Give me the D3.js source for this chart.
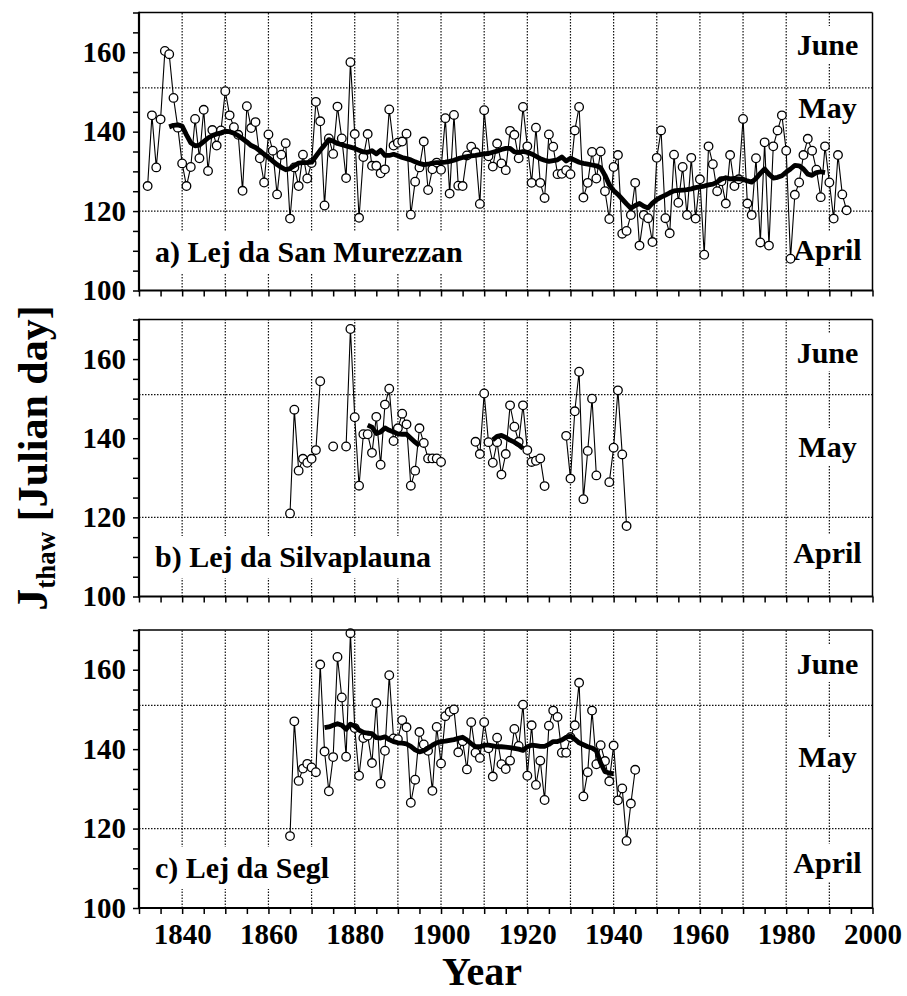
<!DOCTYPE html>
<html>
<head>
<meta charset="utf-8">
<script src="https://cdn.jsdelivr.net/npm/d3@7"></script>
<style>
  html, body { margin: 0; padding: 0; background: #fff; }
  svg { display: block; }
  text { font-family: "Liberation Serif", "Times New Roman", Times, serif; font-weight: bold; fill: #000; }
</style>
</head>
<body>
<svg id="chart" width="907" height="996"></svg>
<script>
// Ice break-up dates (Julian day) of the three Upper Engadine lakes
const murezzanStart = 1832;
const murezzanThaw = [
  126.3,144.1,131.0,143.1,160.3,159.5,148.5,141.0,
  132.0,126.3,131.1,143.2,133.3,145.5,130.1,140.4,136.5,140.3,
  150.2,144.1,141.1,139.2,125.1,146.4,140.9,142.4,133.3,127.2,
  139.3,135.2,124.2,134.2,137.1,118.1,131.0,126.3,134.2,128.2,
  132.1,147.5,142.6,121.4,138.3,134.4,146.3,138.3,128.3,157.5,
  139.4,118.3,133.6,139.4,131.4,131.4,129.5,130.5,145.6,136.5,
  137.2,137.5,139.5,119.1,127.4,131.0,137.5,125.3,130.5,132.2,
  130.4,143.4,124.4,144.2,126.4,126.3,134.0,136.2,134.8,121.8,
  145.4,133.8,131.2,137.0,132.0,130.3,140.2,139.2,133.3,146.2,
  136.3,127.1,141.0,127.1,123.3,139.3,136.2,129.3,129.4,130.3,
  129.3,140.3,146.2,123.4,127.1,134.9,128.2,135.0,125.0,118.0,
  131.1,134.1,114.3,115.0,119.0,127.1,111.3,119.0,118.2,112.2,
  133.4,140.3,118.2,114.4,134.2,122.1,131.1,119.0,133.4,118.1,
  128.0,109.0,136.3,131.8,125.0,127.5,121.9,134.1,126.3,128.0,
  143.2,121.9,119.0,133.3,112.1,137.3,111.3,136.3,140.3,144.1,
  135.2,108.0,124.1,127.2,134.1,138.2,135.2,130.4,123.5,136.3,
  127.2,118.1,134.1,124.2,120.2
];
const murezzanTrendStart = 1837;
const murezzanTrend = [
  141.2,141.6,141.7,
  141.4,139.2,137.2,136.4,136.6,137.5,138.4,139.0,139.4,139.7,
  140.1,140.0,139.6,139.0,138.2,137.4,136.5,136.0,135.2,134.3,
  133.5,132.6,131.7,131.0,130.4,130.7,131.4,132.1,132.2,132.2,
  132.3,133.8,135.3,136.6,138.0,137.6,137.0,136.7,136.4,136.1,
  135.8,135.3,134.9,134.8,135.2,134.4,135.3,134.0,134.0,134.3,
  133.9,133.5,133.2,132.9,132.4,132.0,131.7,131.8,132.1,132.2,
  132.2,132.3,132.5,132.8,133.2,133.5,133.7,133.9,134.0,134.2,
  134.4,134.5,134.8,135.1,135.5,135.8,135.8,134.9,134.8,135.0,
  134.8,134.4,133.8,133.2,132.8,132.5,132.7,132.9,133.6,132.6,
  133.3,132.8,132.3,132.0,131.8,131.6,131.4,130.9,129.0,126.6,
  125.2,124.2,123.0,121.8,120.7,121.4,121.9,121.2,120.8,122.0,
  122.9,123.5,124.0,124.6,125.1,125.2,125.3,125.4,125.6,125.9,
  126.1,126.3,126.6,126.8,127.3,128.0,128.4,128.1,128.2,128.1,
  128.0,127.6,127.3,128.2,129.5,130.6,129.3,128.3,128.5,128.9,
  129.8,130.6,131.5,131.4,130.6,129.3,129.0,129.7,129.9,129.7
];

const silvaplaunaStart = 1865;
const silvaplaunaThaw = [
  121.0,147.2,131.8,134.8,133.8,
  134.8,137.0,154.4,null,null,137.9,null,null,137.9,167.6,
  145.3,128.0,141.0,141.0,136.3,145.4,133.3,148.5,152.5,139.3,
  142.5,146.2,143.5,128.0,131.8,142.5,138.8,134.9,134.9,134.9,
  134.0,null,null,null,null,null,null,null,139.1,136.0,
  151.3,139.0,133.8,139.0,130.8,136.0,148.3,142.9,139.1,148.3,
  137.0,134.0,134.3,134.9,127.9,null,null,null,null,140.6,
  129.8,146.8,156.8,124.6,136.8,150.0,130.6,null,null,128.9,
  137.6,152.1,135.9,117.8
];
const silvaplaunaTrendStart = 1883;
const silvaplaunaTrend = [
  143.3,142.8,141.2,141.6,142.6,142.0,141.6,
  141.1,141.0,141.0,140.0,139.0,138.1,null,null,null,null,
  null,null,null,null,null,null,null,null,null,null,
  null,null,139.6,140.5,140.7,140.2,139.5,139.0,138.3,137.4
];

const seglStart = 1865;
const seglThaw = [
  118.1,147.0,132.0,135.1,136.3,
  135.4,134.2,161.3,139.4,129.4,138.0,163.2,153.0,138.1,169.2,
  145.3,133.3,142.8,143.4,136.5,151.6,131.3,139.6,158.6,142.7,
  142.5,147.3,145.5,126.5,132.3,144.3,141.2,139.6,129.5,145.6,
  136.4,148.3,149.4,150.0,139.2,142.0,134.9,146.8,139.1,137.8,
  146.8,140.2,133.1,142.9,136.2,135.0,137.1,145.1,140.8,151.2,
  133.3,146.0,131.0,137.1,127.2,145.9,149.7,148.1,139.1,139.1,
  143.0,146.0,156.7,128.1,134.2,149.7,136.2,141.0,137.0,131.9,
  140.9,127.1,130.1,116.9,126.3,134.8
];
const seglTrendStart = 1873;
const seglTrend = [
  145.4,145.6,146.0,146.4,146.0,145.0,146.3,
  145.8,144.8,144.2,144.0,143.9,142.9,142.8,143.1,142.4,141.9,
  141.6,141.5,141.3,140.7,139.8,139.3,139.6,140.3,141.0,141.6,
  141.9,142.0,142.2,142.4,142.7,143.0,142.3,141.4,140.6,140.6,
  141.0,141.0,140.8,140.6,140.6,140.5,140.4,140.2,140.0,139.7,
  140.6,141.0,140.9,140.7,140.7,141.2,141.9,141.9,142.3,143.0,
  143.3,142.5,141.6,141.1,140.6,140.3,139.6,136.5,134.3,134.0,
  133.8
];

const lakeNames = ["a) Lej da San Murezzan", "b) Lej da Silvaplauna", "c) Lej da Segl"];
const monthNames = ["June", "May", "April"];
const monthBoundaries = [120, 151];          // last day of April, last day of May
const yTickLabels = [100, 120, 140, 160];
const xTickLabels = [1840, 1860, 1880, 1900, 1920, 1940, 1960, 1980, 2000];

const toSeries = (start, values) => values.map((v, i) => ({ year: start + i, v }));

const panels = [
  { name: lakeNames[0], thaw: toSeries(murezzanStart, murezzanThaw),
    trend: toSeries(murezzanTrendStart, murezzanTrend),
    top: 12.5, bottom: 290.5, labelY: 262, monthY: [55, 118, 260] },
  { name: lakeNames[1], thaw: toSeries(silvaplaunaStart, silvaplaunaThaw),
    trend: toSeries(silvaplaunaTrendStart, silvaplaunaTrend),
    top: 319.5, bottom: 596.5, labelY: 567, monthY: [363, 457, 563] },
  { name: lakeNames[2], thaw: toSeries(seglStart, seglThaw),
    trend: toSeries(seglTrendStart, seglTrend),
    top: 630, bottom: 908, labelY: 878, monthY: [674, 767, 873] }
];

const svg = d3.select("#chart");
const x = d3.scaleLinear().domain([1830, 2000]).range([139, 872.5]);
const FONT = '"Liberation Serif", "Times New Roman", Times, serif';

// white box behind a text element so the grid does not run through it
function boxed(g, t, pad) {
  const b = t.node().getBBox();
  g.insert("rect", () => t.node())
    .attr("x", b.x - pad).attr("y", b.y - pad)
    .attr("width", b.width + 2 * pad).attr("height", b.height + 2 * pad)
    .attr("fill", "#fff");
}

panels.forEach((p, pi) => {
  const y = d3.scaleLinear().domain([100, 170]).range([p.bottom, p.top]);
  const g = svg.append("g");

  // dotted grid: every decade, and the month boundaries
  g.append("g").selectAll("line").data(d3.range(1840, 2000, 10)).join("line")
    .attr("x1", d => x(d)).attr("x2", d => x(d))
    .attr("y1", y(100)).attr("y2", y(170))
    .attr("stroke", "#111").attr("stroke-width", 1.2).attr("stroke-dasharray", "1.5,1.5");
  g.append("g").selectAll("line").data(monthBoundaries).join("line")
    .attr("x1", x(1830)).attr("x2", x(2000))
    .attr("y1", d => y(d)).attr("y2", d => y(d))
    .attr("stroke", "#111").attr("stroke-width", 1.2).attr("stroke-dasharray", "1.5,1.5");

  // month names
  const lg = g.append("g");
  monthNames.forEach((m, i) => {
    const t = lg.append("text").attr("x", 827.5).attr("y", p.monthY[i])
      .attr("text-anchor", "middle").attr("font-size", 30).text(m);
    boxed(lg, t, 2);
  });
  // lake name
  const nt = lg.append("text").attr("x", 155).attr("y", p.labelY)
    .attr("font-size", 30).text(p.name);
  boxed(lg, nt, 4);

  // yearly thaw dates
  const line = d3.line().defined(d => d.v != null).x(d => x(d.year)).y(d => y(d.v));
  g.append("path").datum(p.thaw).attr("d", line)
    .attr("fill", "none").attr("stroke", "#000").attr("stroke-width", 1.1);
  g.append("g").selectAll("circle").data(p.thaw.filter(d => d.v != null)).join("circle")
    .attr("cx", d => x(d.year)).attr("cy", d => y(d.v)).attr("r", 4.3)
    .attr("fill", "#fff").attr("stroke", "#000").attr("stroke-width", 1.3);

  // running mean
  g.append("path").datum(p.trend).attr("d", line)
    .attr("fill", "none").attr("stroke", "#000").attr("stroke-width", 4.8)
    .attr("stroke-linejoin", "round");

  // axes
  const yAxis = d3.axisLeft(y).tickValues(d3.range(100, 171, 5)).tickSize(6).tickPadding(7)
    .tickFormat(d => yTickLabels.includes(d) ? d : "");
  const ya = g.append("g").attr("transform", `translate(${x(1830)},0)`).call(yAxis);
  const xAxis = d3.axisBottom(x).tickValues(d3.range(1830, 2001, 5)).tickSize(6).tickPadding(9)
    .tickFormat(d => (pi === panels.length - 1 && xTickLabels.includes(d)) ? d : "");
  const xa = g.append("g").attr("transform", `translate(0,${y(100)})`).call(xAxis);
  [ya, xa].forEach(a => {
    a.attr("font-family", FONT).attr("font-size", 29).attr("font-weight", "bold");
    a.select(".domain").remove();
    a.selectAll(".tick line").attr("stroke", "#000").attr("stroke-width", 1.5);
    a.selectAll(".tick text").attr("fill", "#000");
  });

  // frame
  g.append("line").attr("x1", x(1830)).attr("x2", x(2000)).attr("y1", y(170)).attr("y2", y(170))
    .attr("stroke", "#000").attr("stroke-width", 1.5);
  g.append("line").attr("x1", x(2000)).attr("x2", x(2000)).attr("y1", y(170)).attr("y2", y(100))
    .attr("stroke", "#000").attr("stroke-width", 1.5);
  g.append("line").attr("x1", x(1830)).attr("x2", x(1830)).attr("y1", y(170) - 0.75).attr("y2", y(100) + 1)
    .attr("stroke", "#000").attr("stroke-width", 2.2);
  g.append("line").attr("x1", x(1830) - 1).attr("x2", x(2000) + 0.75).attr("y1", y(100)).attr("y2", y(100))
    .attr("stroke", "#000").attr("stroke-width", 2.2);
});

// axis titles
svg.append("text").attr("x", 482).attr("y", 985).attr("text-anchor", "middle")
  .attr("font-size", 40).text("Year");

const yt = svg.append("text").attr("transform", "translate(47,458) rotate(-90)")
  .attr("text-anchor", "middle");
yt.append("tspan").attr("font-size", 44).text("J");
yt.append("tspan").attr("font-size", 27).attr("dy", 8).text("thaw");
yt.append("tspan").attr("font-size", 42).attr("dy", -8).text(" [Julian day]");
</script>
</body>
</html>
